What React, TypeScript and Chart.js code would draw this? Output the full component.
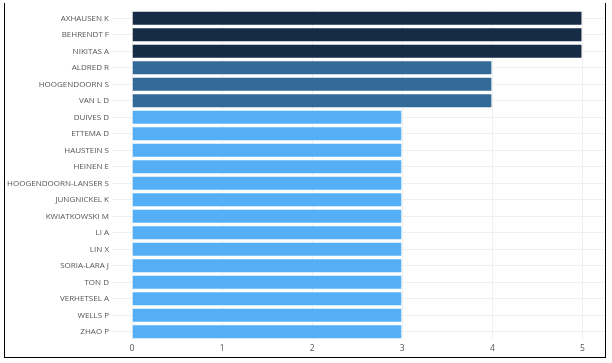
import React, { useEffect, useRef } from "react";
import { Chart, registerables } from "chart.js";

Chart.register(...registerables);

const categories = [
  "AXHAUSEN K", "BEHRENDT F", "NIKITAS A", "ALDRED R", "HOOGENDOORN S", "VAN L D",
  "DUIVES D", "ETTEMA D", "HAUSTEIN S", "HEINEN E", "HOOGENDOORN-LANSER S",
  "JUNGNICKEL K", "KWIATKOWSKI M", "LI A", "LIN X", "SORIA-LARA J", "TON D",
  "VERHETSEL A", "WELLS P", "ZHAO P",
];
const values = [5, 5, 5, 4, 4, 4, 3, 3, 3, 3, 3, 3, 3, 3, 3, 3, 3, 3, 3, 3];
const xTicks = [0, 1, 2, 3, 4, 5];
const xMax = 5.25;

const colorFor = (v: number) => (v >= 5 ? "#162b46" : v >= 4 ? "#336a97" : "#55aff6");

export default function App() {
  const ref = useRef<HTMLCanvasElement>(null);
  useEffect(() => {
    const ctx = ref.current!;
    const chart = new Chart(ctx, {
      type: "bar",
      data: {
        labels: categories,
        datasets: [
          {
            data: values,
            backgroundColor: values.map(colorFor),
            borderColor: "rgba(255,255,255,0.3)",
            borderWidth: 1,
            barPercentage: 0.9,
            categoryPercentage: 1,
          },
        ],
      },
      options: {
        indexAxis: "y",
        animation: false,
        responsive: false,
        maintainAspectRatio: false,
        layout: { padding: { top: 10, right: 7, left: 0, bottom: 0 } },
        plugins: { legend: { display: false }, tooltip: { enabled: false } },
        scales: {
          x: {
            min: 0,
            max: xMax,
            afterBuildTicks: (s: any) => {
              s.ticks = xTicks.map((v) => ({ value: v }));
            },
            afterFit: (s: any) => {
              s.height = 23;
            },
            border: { display: false },
            grid: { color: "#f0f0f0", drawTicks: false },
            ticks: { color: "#555", font: { family: "Open Sans", size: 8.5 }, padding: 3 },
          },
          y: {
            afterFit: (s: any) => {
              s.width = 132;
            },
            border: { display: false },
            grid: { color: "#f0f0f0", offset: false, tickLength: 20 },
            ticks: { color: "#555", font: { family: "Open Sans", size: 8 }, padding: 3 },
          },
        },
      },
    });
    return () => chart.destroy();
  }, []);
  return (
    <div style={{ position: "fixed", left: 0, top: 0, width: 612, height: 363, background: "#fff" }}>
      <canvas ref={ref} width={612} height={363} style={{ position: "absolute", left: 0, top: 0 }} />
      <div
        style={{
          position: "absolute",
          left: 4,
          top: 3,
          width: 600,
          height: 354,
          borderLeft: "1.5px solid #000",
          borderRight: "1.5px solid #000",
          borderBottom: "1.5px solid #000",
        }}
      />
    </div>
  );
}
